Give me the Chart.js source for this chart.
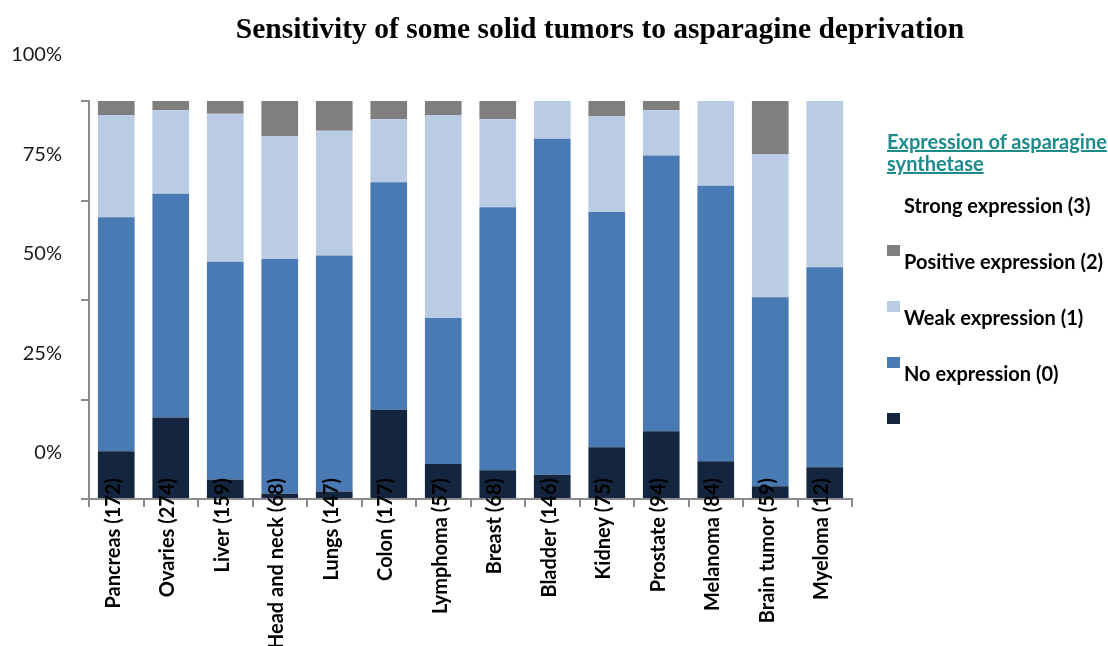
<!DOCTYPE html>
<html>
<head>
<meta charset="utf-8">
<script src="https://cdn.jsdelivr.net/npm/chart.js@4.4.1/dist/chart.umd.min.js"></script>
<style>
  body { margin: 0; background: #fff; }
  #wrap { position: relative; width: 1108px; height: 646px; overflow: hidden; }
  #chart { position: absolute; left: 0; top: 0; }
  #title {
    position: absolute; left: 0; top: 11px; width: 1200px; text-align: center;
    font: bold 29.5px "Liberation Serif", "Times New Roman", serif; line-height: 34px; color: #000;
  }
  #legend { position: absolute; left: 887px; top: 0; width: 221px; height: 646px; font-family: Lato, "Open Sans", sans-serif; }
  #legend .head {
    position: absolute; left: 0; top: 130px; color: #1b8b8c; font-weight: bold; font-size: 20px;
    line-height: 22px; text-decoration: underline; white-space: nowrap;
  }
  #legend .row { position: absolute; left: 0; width: 221px; height: 56px; }
  #legend .box { position: absolute; left: 0; top: 12px; width: 13px; height: 11px; }
  #legend .txt {
    position: absolute; left: 17px; top: 0; line-height: 56px; font-weight: bold; font-size: 20px;
    color: #000; white-space: nowrap;
  }
</style>
</head>
<body>
<div id="wrap">
  <canvas id="chart" width="1108" height="646"></canvas>
  <div id="title">Sensitivity of some solid tumors to asparagine deprivation</div>
  <div id="legend"></div>
</div>
<script>
// Tumor types (number of samples)
const categories = [
    "Pancreas (172)", "Ovaries (274)", "Liver (159)", "Head and neck (68)", "Lungs (147)",
    "Colon (177)", "Lymphoma (57)", "Breast (68)", "Bladder (146)", "Kidney (75)",
    "Prostate (94)", "Melanoma (84)", "Brain tumor (59)", "Myeloma (12)"
];

// Share of samples per group, bottom of the stack first (%)
const navySeries      = [12.0, 20.5, 4.9, 1.3, 1.9, 22.4, 8.8, 7.2, 6.1, 13.0, 17.0, 9.5, 3.2, 8.0];
const midBlueSeries   = [58.8, 56.2, 54.7, 59.0, 59.3, 57.2, 36.7, 66.1, 84.4, 59.1, 69.3, 69.2, 47.5, 50.2];
const lightBlueSeries = [25.7, 21.0, 37.2, 30.9, 31.3, 15.8, 51.0, 22.1, 9.5, 24.1, 11.4, 21.3, 36.0, 41.8];
const graySeries      = [3.5, 2.3, 3.2, 8.8, 7.5, 4.6, 3.5, 4.6, 0, 3.8, 2.3, 0, 13.3, 0];

const yTickLabels = ["0%", "25%", "50%", "75%", "100%"];

const legendTitle = ["Expression of asparagine", "synthetase"];
const legendLabels = ["Strong expression (3)", "Positive expression (2)", "Weak expression (1)", "No expression (0)", ""];

const colors = {
    navy: "#14263f",
    mid: "#4a7ab3",
    light: "#b9cce4",
    gray: "#7f7f7f"
};

const axisColor = "#8c8c8c";

const datasets = [
    { label: legendLabels[4], data: navySeries, backgroundColor: colors.navy },
    { label: legendLabels[3], data: midBlueSeries, backgroundColor: colors.mid },
    { label: legendLabels[2], data: lightBlueSeries, backgroundColor: colors.light },
    { label: legendLabels[1], data: graySeries, backgroundColor: colors.gray }
];
datasets.forEach(ds => {
    ds.barPercentage = 0.673;
    ds.categoryPercentage = 1.0;
    ds.borderWidth = 0;
});

const ctx = document.getElementById("chart").getContext("2d");

window.tumorChart = new Chart(ctx, {
    type: "bar",
    data: {
        labels: categories,
        datasets: datasets
    },
    options: {
        responsive: false,
        animation: false,
        layout: {
            padding: { top: 101, right: 256, left: 0, bottom: 0 }
        },
        plugins: {
            legend: { display: false },
            title: { display: false },
            tooltip: { enabled: false }
        },
        scales: {
            x: {
                stacked: true,
                grid: {
                    offset: true,
                    drawOnChartArea: false,
                    drawTicks: true,
                    tickLength: 8,
                    color: axisColor,
                    lineWidth: 2
                },
                border: { display: true, color: axisColor, width: 2 },
                ticks: {
                    // mirrored so the labels are not clipped and can run up over the bars
                    z: 1,
                    mirror: true,
                    padding: 21,
                    labelOffset: 21,
                    autoSkip: false,
                    minRotation: 90,
                    maxRotation: 90,
                    color: "#000",
                    font: { family: "Lato", weight: "bold", size: 20 }
                },
                afterFit: scale => { scale.height = 147; }
            },
            y: {
                stacked: true,
                min: 0,
                max: 100,
                grid: {
                    drawOnChartArea: false,
                    drawTicks: true,
                    tickLength: 8,
                    color: axisColor,
                    lineWidth: 2
                },
                border: { display: true, color: axisColor, width: 2 },
                ticks: {
                    stepSize: 25,
                    labelOffset: -46,
                    padding: 19,
                    color: "#1a1a1a",
                    font: { family: "Lato", size: 20 },
                    callback: (value, index) => yTickLabels[index]
                },
                afterFit: scale => { scale.width = 89; }
            }
        }
    }
});

// Legend on the right, built from the dataset colours (top of stack first)
const legendEl = document.getElementById("legend");
const head = document.createElement("div");
head.className = "head";
head.innerHTML = legendTitle.join("<br>");
legendEl.appendChild(head);

const rowColors = [null].concat(datasets.slice().reverse().map(ds => ds.backgroundColor));
legendLabels.forEach((text, i) => {
    const row = document.createElement("div");
    row.className = "row";
    row.style.top = (177 + 56 * i) + "px";
    if (rowColors[i]) {
        const box = document.createElement("div");
        box.className = "box";
        box.style.background = rowColors[i];
        row.appendChild(box);
    }
    const txt = document.createElement("div");
    txt.className = "txt";
    txt.textContent = text;
    row.appendChild(txt);
    legendEl.appendChild(row);
});
</script>
</body>
</html>
